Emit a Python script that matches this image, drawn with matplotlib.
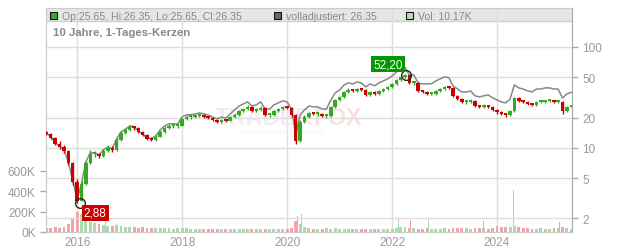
import matplotlib
matplotlib.use('Agg')
import matplotlib.pyplot as plt
import matplotlib.dates as mdates
from matplotlib.patches import Rectangle
from matplotlib.ticker import FixedLocator, NullLocator, FuncFormatter
import pandas as pd
import numpy as np

plt.rcParams['font.family'] = ['Liberation Sans', 'DejaVu Sans']

# ---------------- data ----------------
months = pd.date_range('2015-06-01', periods=121, freq='MS')
first_open = 14.2
close = [
    13.8, 12.6, 11.0, 10.2, 9.34, 7.10, 4.61, 3.0, 4.40, 7.10,
    8.73, 8.73, 8.34, 9.34, 10.0, 9.55, 12.0, 14.1, 15.0, 16.1,
    15.8, 14.4, 13.4, 12.3, 12.0, 12.9, 14.4, 15.8, 16.5, 16.5,
    16.5, 19.4, 20.3, 20.3, 20.7, 21.2, 20.3, 19.8, 18.9, 18.1,
    18.9, 18.5, 20.3, 21.2, 23.2, 24.3, 25.5, 23.2, 23.8, 24.9,
    21.2, 21.2, 23.2, 24.3, 25.5, 24.9, 21.2, 11.8, 18.1, 20.3,
    22.2, 21.7, 21.7, 20.7, 20.7, 25.5, 29.9, 32.0, 35.8, 37.5,
    36.7, 38.4, 37.5, 33.5, 35.8, 34.3, 36.7, 38.4, 40.2, 43.0,
    47.1, 50.5, 52.2, 44.0, 44.0, 36.7, 35.8, 34.3, 34.3, 36.7,
    38.4, 40.2, 39.3, 32.7, 30.6, 28.5, 28.5, 29.2, 26.1, 25.5,
    26.1, 25.5, 23.8, 22.7, 21.7, 21.2, 23.2, 31.3, 29.2, 28.5,
    27.3, 26.7, 28.5, 28.5, 29.2, 29.2, 28.5, 28.5, 23.2, 25.5,
    26.35]
high = [
    14.6, 14.2, 12.9, 11.6, 10.8, 9.6, 7.3, 4.9, 4.7, 7.5,
    9.5, 9.3, 9.0, 9.8, 10.6, 10.4, 12.5, 14.6, 15.6, 16.8,
    16.6, 16.0, 14.7, 13.6, 12.7, 13.4, 14.9, 16.3, 17.1, 17.2,
    17.0, 20.0, 21.0, 21.1, 21.5, 22.0, 21.6, 20.8, 20.2, 19.3,
    19.5, 19.4, 20.9, 22.0, 23.9, 25.1, 26.4, 26.0, 24.6, 25.8,
    25.2, 22.2, 23.9, 25.1, 26.3, 26.1, 25.4, 21.8, 18.8, 21.0,
    22.9, 22.8, 22.6, 22.1, 21.6, 26.3, 30.8, 33.0, 36.9, 38.8,
    38.6, 39.6, 39.5, 38.0, 36.9, 36.5, 37.8, 39.6, 41.4, 44.3,
    48.5, 52.0, 53.5, 52.8, 45.8, 44.6, 37.8, 36.6, 35.6, 37.8,
    39.6, 41.4, 41.2, 39.8, 33.3, 31.2, 29.6, 30.2, 29.7, 26.8,
    27.0, 26.8, 26.0, 24.3, 23.2, 22.3, 23.9, 32.2, 31.9, 29.9,
    29.1, 28.0, 29.4, 29.6, 30.1, 30.2, 29.9, 29.5, 29.0, 26.2,
    26.35]
low = [
    13.3, 12.2, 10.6, 9.7, 8.9, 6.7, 4.3, 2.88, 2.95, 4.3,
    6.9, 8.1, 7.9, 8.1, 9.1, 9.1, 9.4, 11.8, 13.8, 14.7,
    15.2, 14.0, 13.0, 11.9, 11.6, 11.8, 12.7, 14.2, 15.5, 15.9,
    15.6, 16.3, 19.0, 19.5, 19.8, 20.2, 19.6, 19.2, 18.4, 17.6,
    17.8, 18.0, 18.3, 20.0, 20.9, 22.8, 23.9, 22.5, 22.6, 23.3,
    20.5, 20.4, 20.9, 22.8, 23.9, 24.2, 20.4, 11.0, 11.5, 17.7,
    19.9, 21.0, 20.9, 20.1, 19.9, 20.4, 25.1, 29.2, 31.4, 34.9,
    35.6, 35.9, 36.4, 32.5, 32.9, 33.3, 33.7, 35.9, 37.6, 39.4,
    42.2, 46.2, 49.3, 42.6, 42.4, 35.5, 34.6, 33.2, 33.2, 33.7,
    35.9, 37.6, 38.1, 31.7, 29.6, 27.6, 27.5, 27.8, 25.3, 24.7,
    24.8, 24.7, 23.0, 21.9, 21.0, 20.4, 20.8, 22.8, 28.2, 27.6,
    26.4, 25.9, 26.3, 27.6, 27.9, 28.3, 27.6, 27.6, 21.8, 22.8,
    25.3]
adjusted = [
    14.1, 12.9, 11.25, 10.4, 9.55, 7.26, 4.72, 3.07, 4.50, 7.26,
    8.93, 8.93, 8.53, 9.55, 10.2, 9.77, 12.3, 14.4, 15.3, 16.5,
    16.2, 14.7, 13.7, 12.6, 12.3, 13.2, 15.1, 16.5, 17.3, 17.3,
    17.3, 20.3, 21.3, 21.3, 21.7, 22.2, 21.7, 21.2, 20.2, 19.4,
    20.2, 19.8, 21.7, 23.8, 26.0, 27.2, 28.6, 26.0, 26.7, 28.6,
    24.3, 24.3, 26.6, 27.9, 29.2, 28.6, 24.3, 13.5, 21.2, 23.8,
    26.0, 25.5, 25.5, 24.3, 24.3, 29.9, 35.1, 37.5, 42.0, 44.0,
    43.0, 45.0, 44.0, 40.2, 43.0, 41.2, 44.0, 46.1, 48.2, 51.6,
    56.5, 60.6, 62.6, 52.8, 52.8, 44.0, 43.0, 43.1, 43.1, 46.1,
    48.2, 50.5, 49.4, 41.1, 38.4, 35.8, 35.8, 36.7, 32.8, 32.0,
    32.8, 33.5, 31.3, 29.9, 28.5, 27.9, 30.5, 42.1, 39.3, 38.3,
    36.7, 35.9, 38.3, 38.3, 39.3, 39.3, 38.3, 38.3, 31.2, 34.3,
    35.4]
volume_k = [
    35, 40, 45, 40, 50, 80, 140, 200, 180, 120,
    100, 90, 80, 70, 60, 60, 70, 60, 50, 45,
    50, 40, 45, 40, 40, 35, 35, 40, 35, 30,
    35, 40, 35, 30, 30, 25, 30, 30, 25, 25,
    30, 30, 25, 25, 30, 25, 25, 30, 25, 25,
    25, 30, 25, 30, 25, 30, 40, 110, 80, 45,
    35, 30, 30, 30, 35, 30, 35, 30, 25, 30,
    30, 25, 30, 30, 25, 25, 30, 25, 30, 30,
    35, 45, 50, 40, 35, 30, 30, 35, 30, 25,
    30, 35, 30, 35, 40, 35, 40, 30, 35, 40,
    35, 30, 35, 60, 50, 45, 50, 55, 45, 40,
    35, 30, 30, 35, 30, 30, 35, 40, 45, 35,
    30]
spike_dates = ['2015-12-10', '2016-01-15', '2016-03-10', '2016-07-15', '2019-02-15',
               '2020-03-15', '2020-04-10', '2022-02-15', '2022-04-15', '2022-05-10',
               '2022-09-10', '2022-11-10', '2023-10-01', '2023-12-10', '2024-03-10',
               '2024-04-25', '2024-06-10', '2025-03-10']
spike_vol_k = [260, 230, 260, 200, 275, 160, 175, 140, 130, 120, 130, 120, 110, 360, 130, 410, 110, 100]
spike_up = [False, False, True, True, False, False, True, True, False, False,
            True, True, False, False, True, True, False, False]

low_date, low_value, low_label = '2016-01-19', 2.88, '2,88'
high_date, high_value, high_label = '2022-04-08', 52.20, '52,20'

price_ticks = [2, 5, 10, 20, 50, 100]
vol_ticks_k = [0, 200, 400, 600]
year_ticks = [2016, 2018, 2020, 2022, 2024]

header_main = 'Op:25.65, Hi:26.35, Lo:25.65, Cl:26.35'
header_adj = 'volladjustiert: 26.35'
header_vol = 'Vol: 10.17K'
title = '10 Jahre, 1-Tages-Kerzen'

# ---------------- styling ----------------
RED = '#cc0000'
GREEN = '#33aa22'
VRED = '#f4a3ab'
VGREEN = '#aadcaa'
GRID = '#dddddd'
TXT = '#999999'

W, H = 632, 253
fig = plt.figure(figsize=(W / 100, H / 100), dpi=100)
L, R, T, B = 46, 572, 9, 233
ax_v = fig.add_axes([L / W, 1 - B / H, (R - L) / W, (B - T) / H])
ax_p = ax_v.twinx()
ax_p.patch.set_visible(False)

dates = mdates.date2num(months.to_pydatetime())
close_a = np.array(close)
open_a = np.concatenate([[first_open], close_a[:-1]])
up = close_a >= open_a
ccols = [GREEN if u else RED for u in up]

# volume
vcols = [VGREEN if u else VRED for u in up]
ax_v.bar(dates, np.array(volume_k) * 1000, width=20, color=vcols, linewidth=0, zorder=2)
sd = mdates.date2num(pd.to_datetime(spike_dates).to_pydatetime())
ax_v.bar(sd, np.array(spike_vol_k) * 1000, width=4,
         color=[VGREEN if u else VRED for u in spike_up], linewidth=0, zorder=2)
ax_v.set_ylim(0, 2203000)

# header band
hb = (B - 22) / (B - T)
ax_v.add_patch(Rectangle((0, hb), 1, 1 - hb, transform=ax_v.transAxes,
                         facecolor='#e6e6e6', edgecolor='none', zorder=0))
ax_v.plot([0, 1], [hb, hb], transform=ax_v.transAxes, color='#d0d0d0', lw=1, zorder=1)

# price
ax_p.set_yscale('log')
ax_p.set_ylim(1.47, 243)
ax_p.plot(dates, adjusted, color='#888888', lw=1.1, zorder=3)
ax_p.vlines(dates, low, high, colors=ccols, lw=1.0, zorder=4)
bottoms = np.minimum(open_a, close_a)
heights = np.maximum(np.abs(close_a - open_a), bottoms * 0.04)
ax_p.bar(dates, heights, bottom=bottoms, width=24, color=ccols, linewidth=0, zorder=4)

# markers
ld = mdates.date2num(pd.Timestamp(low_date).to_pydatetime())
hd = mdates.date2num(pd.Timestamp(high_date).to_pydatetime())
for d, v in [(ld, low_value), (hd, high_value)]:
    ax_p.plot(d, v, 'o', ms=7, mfc='none', mec='#222222', mew=1.0, zorder=6)
ax_p.annotate(high_label, xy=(hd, high_value), xytext=(-13, 8), textcoords='offset points',
              ha='center', va='center', color='white', fontsize=8.5, zorder=7,
              bbox=dict(boxstyle='square,pad=0.18', fc='#009900', ec='none'))
ax_p.annotate(low_label, xy=(ld, low_value), xytext=(11, -7.5), textcoords='offset points',
              ha='center', va='center', color='white', fontsize=8.5, zorder=7,
              bbox=dict(boxstyle='square,pad=0.18', fc='#cc0000', ec='none'))

# axes / grid
xlo = mdates.date2num(pd.Timestamp('2015-05-29').to_pydatetime())
xhi = mdates.date2num(pd.Timestamp('2025-06-06').to_pydatetime())
ax_v.set_xlim(xlo, xhi)
yt = [mdates.date2num(pd.Timestamp(f'{y}-01-01').to_pydatetime()) for y in year_ticks]
ax_v.set_xticks(yt)
ax_v.set_xticklabels([str(y) for y in year_ticks])
ax_v.set_yticks([v * 1000 for v in vol_ticks_k])
ax_v.set_yticklabels([f'{v}K' for v in vol_ticks_k])
ax_p.yaxis.set_major_locator(FixedLocator(price_ticks))
ax_p.yaxis.set_minor_locator(NullLocator())
ax_p.yaxis.set_major_formatter(FuncFormatter(lambda v, p: f'{v:g}'))

for d in yt:
    ax_v.axvline(d, color=GRID, lw=1, zorder=1)
ax_p.grid(axis='y', which='major', color=GRID, lw=1, zorder=1)

for ax in (ax_v, ax_p):
    ax.tick_params(colors='#aaaaaa', labelcolor=TXT, labelsize=8.5, length=4, width=1)
    for s in ax.spines.values():
        s.set_color('#cccccc')
ax_v.tick_params(axis='x', length=0, pad=3)
ax_p.spines['right'].set_color('#aaaaaa')
ax_v.spines['bottom'].set_color('#bbbbbb')

# watermark
ax_v.text(0.508, 0.51, 'TRADER', transform=ax_v.transAxes, ha='right', va='center',
          fontsize=17, fontweight='bold', color='#efefef', zorder=1.5)
ax_v.text(0.508, 0.51, 'FOX', transform=ax_v.transAxes, ha='left', va='center',
          fontsize=17, fontweight='bold', color='#fbe0e0', zorder=1.5)
ax_v.text(0.37, 0.45, 'REALTIME STOCK SCREENING', transform=ax_v.transAxes, ha='left',
          va='center', fontsize=4, color='#eeeeee', zorder=1.5)

# header texts
def fx(x):
    return x / W

def fy(y):
    return 1 - y / H

for sx, col, txt in [(50, '#33aa33', header_main), (274, '#666666', header_adj),
                     (406, '#b5e2b5', header_vol)]:
    fig.patches.append(Rectangle((fx(sx), fy(20)), 7 / W, 7 / H, transform=fig.transFigure,
                                 facecolor=col, edgecolor='#111111', lw=0.8))
    fig.text(fx(sx + 12), fy(16.5), txt, ha='left', va='center', fontsize=7.6, color='#888888')

fig.text(fx(53), fy(33), title, ha='left', va='center', fontsize=8.2,
         fontweight='bold', color='#888888')

fig.savefig('out.png', dpi=100)
